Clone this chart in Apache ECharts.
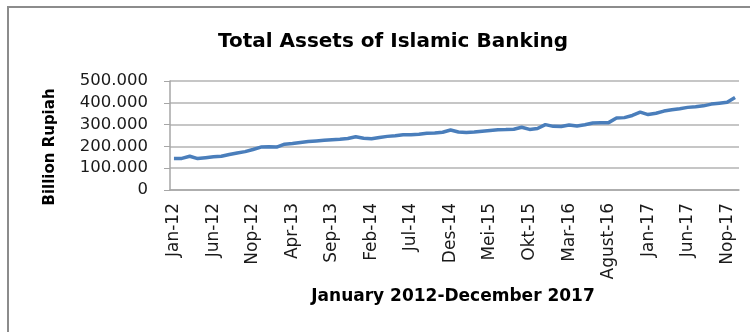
<!DOCTYPE html>
<html>
<head>
<meta charset="utf-8">
<script src="https://cdn.jsdelivr.net/npm/echarts@6/dist/echarts.min.js"></script>
<style>html,body{margin:0;padding:0;background:#fff;}#c{width:750px;height:332px;}</style>
</head>
<body>
<div id="c"></div>
<script>
var monthNames = ['Jan','Feb','Mar','Apr','Mei','Jun','Jul','Agust','Sep','Okt','Nop','Des'];
var years = ['12','13','14','15','16','17'];
var yTicks = [0, 100, 200, 300, 400, 500];
var yTickLabels = ['0','100.000','200.000','300.000','400.000','500.000'];
var assets2012 = [145,145,155,144,148,152,155,163,170,176,186,197];
var assets2013 = [198,197,210,213,218,222,225,228,231,233,236,244];
var assets2014 = [237,235,241,246,249,253,254,256,260,262,265,275];
var assets2015 = [266,264,266,270,273,276,277,279,288,278,282,300];
var assets2016 = [292,291,298,294,299,307,309,309,330,332,342,357];
var assets2017 = [346,352,362,368,373,379,382,386,394,398,402,424];

var categories = [];
years.forEach(function(y){ monthNames.forEach(function(m){ categories.push(m + '-' + y); }); });
var values = [].concat(assets2012, assets2013, assets2014, assets2015, assets2016, assets2017);

var chart = echarts.init(document.getElementById('c'));
chart.setOption({
  animation: false,
  backgroundColor: '#fff',
  title: {
    text: 'Total Assets of Islamic Banking',
    left: 388, top: 27, textAlign: 'center',
    textStyle: {fontFamily: 'DejaVu Sans', fontWeight: 'bold', fontSize: 20, color: '#000'}
  },
  grid: {left: 170, right: 11, top: 81, bottom: 142, containLabel: false},
  xAxis: {
    type: 'category',
    data: categories,
    boundaryGap: true,
    axisLine: {lineStyle: {color: '#a6a6a6', width: 1.5}},
    axisTick: {show: false},
    axisLabel: {
      interval: 4, rotate: 90, margin: 13,
      fontFamily: 'DejaVu Sans', fontSize: 17, color: '#1a1a1a'
    }
  },
  yAxis: {
    type: 'value',
    min: 0, max: 500, interval: 100,
    axisLine: {show: true, lineStyle: {color: '#a6a6a6', width: 1.5}},
    axisTick: {show: true, length: 6, lineStyle: {color: '#a6a6a6'}},
    splitLine: {lineStyle: {color: '#b3b3b3', width: 1.5}},
    axisLabel: {
      margin: 22,
      fontFamily: 'DejaVu Sans', fontSize: 16.5, color: '#1a1a1a',
      formatter: function(v){ var i = yTicks.indexOf(v); return i >= 0 ? yTickLabels[i] : ''; }
    }
  },
  series: [{
    type: 'line',
    data: values,
    showSymbol: false,
    symbol: 'none',
    lineStyle: {color: '#4a7ebb', width: 3.5},
    itemStyle: {color: '#4a7ebb'}
  }],
  graphic: [
    {type: 'rect', shape: {x: 8, y: 7, width: 800, height: 400}, style: {fill: 'none', stroke: '#8c8c8c', lineWidth: 2}, z: -1},
    {type: 'text', x: 50, y: 147, rotation: Math.PI / 2,
     style: {text: 'Billion Rupiah', fontFamily: 'DejaVu Sans', fontWeight: 'bold', fontSize: 15, fill: '#000', textAlign: 'center', textVerticalAlign: 'middle'}},
    {type: 'text', x: 453, y: 297,
     style: {text: 'January 2012-December 2017', fontFamily: 'DejaVu Sans', fontWeight: 'bold', fontSize: 17, fill: '#000', textAlign: 'center', textVerticalAlign: 'middle'}}
  ]
});
</script>
</body>
</html>
